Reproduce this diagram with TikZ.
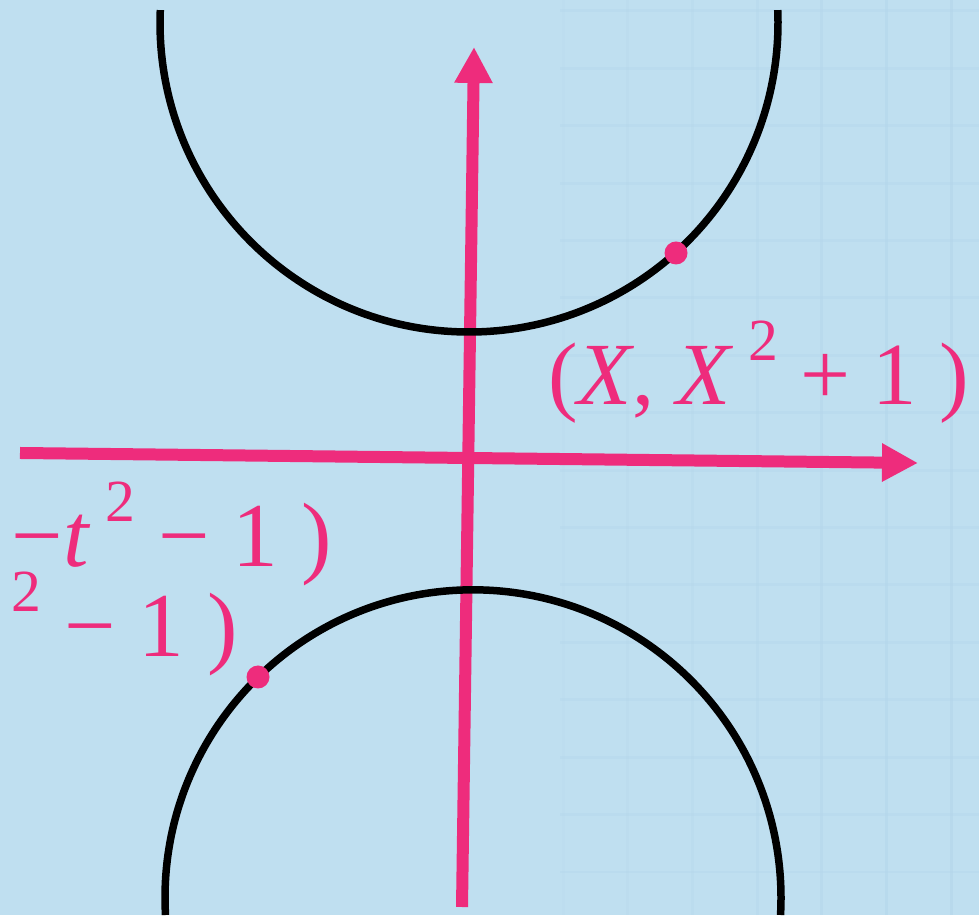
\documentclass[tikz,border=0pt]{standalone}
\usepackage{fontspec}
\newfontfamily\lblfont{Liberation Serif}
\usetikzlibrary{arrows.meta}

\definecolor{skyback}{RGB}{191,223,240}
\definecolor{gridblue}{RGB}{180,214,235}
\definecolor{hotpink}{RGB}{238,44,124}

% superscript two for the labels
\newcommand{\sqtwo}{\,\raisebox{0.5em}[0pt][0pt]{\fontsize{34}{34}\selectfont 2}}

\begin{document}
\begin{tikzpicture}[x=0.02cm, y=0.02cm,
	axis/.style={hotpink, line width=0.24cm, -{Triangle[length=0.72cm, width=0.72cm]}},
	curve/.style={black, line width=0.15cm},
	dot/.style={circle, fill=hotpink, inner sep=0pt, minimum size=0.46cm},
	lbl/.style={text=hotpink, inner sep=0pt, text depth=0pt, font=\lblfont\fontsize{52}{60}\selectfont}]
	% 1. background
	\useasboundingbox (0, 0) rectangle (979, 915);
	\clip (0, 0) rectangle (979, 915);
	\fill[skyback] (0, 0) rectangle (979, 915);

	% 2. faint grid on the right
	\foreach \i in {0,...,6}
		\draw[gridblue, line width=0.06cm, opacity=0.15+0.08*\i] (563+64.7*\i, 0) -- (563+64.7*\i, 915);
	\foreach \j in {0,...,15}
		\draw[gridblue, line width=0.06cm, opacity=0.4] (560, 43+57.4*\j) -- (979, 43+57.4*\j);

	% 3. axes
	\coordinate (xfrom) at (20, 462);
	\coordinate (xto) at (918, 452);
	\coordinate (yfrom) at (462, 8);
	\coordinate (yto) at (474, 868);
	\draw[axis] (xfrom) -- (xto);
	\draw[axis] (yfrom) -- (yto);

	% 4. the two arcs
	\draw[curve] (160.3, 904.9) arc[start angle=177.6, end angle=362.4, radius=309];
	\draw[curve] (165.5, 0) arc[start angle=183.2, end angle=-3.2, radius=308];

	% 5. points on the arcs
	\node[dot] (dotup) at (676, 662) {};
	\node[dot] (dotdown) at (258, 238) {};

	% 6. labels
	\node[lbl, anchor=base west, font=\lblfont\fontsize{50.5}{60}\selectfont] (lblup) at (548, 510) {(\textit{X}, \textit{X}\sqtwo{} + 1 )};
	\node[lbl, anchor=base east] (lblmid) at (332, 348) {−\textit{t}\sqtwo{} − 1 )};
	\node[lbl, anchor=base east] (lbllow) at (238, 258) {\sqtwo{} − 1 )};
\end{tikzpicture}
\end{document}
